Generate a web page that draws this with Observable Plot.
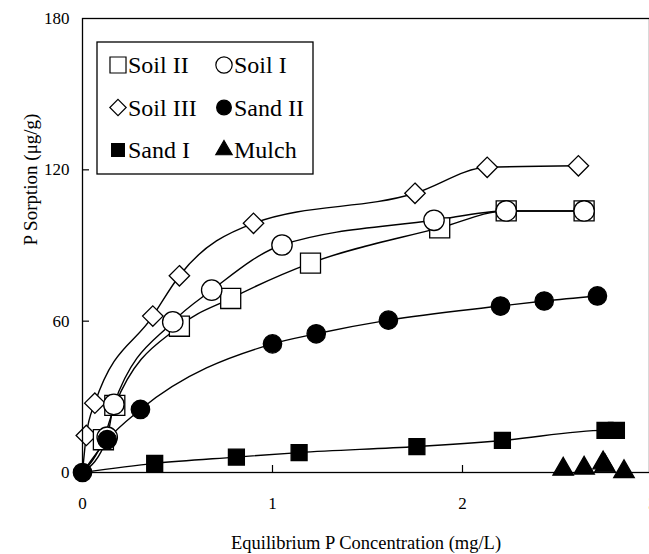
<!DOCTYPE html>
<html><head><meta charset="utf-8">
<script src="https://cdn.jsdelivr.net/npm/d3@7"></script>
<script src="https://cdn.jsdelivr.net/npm/@observablehq/plot@0.6"></script>
<style>
body{margin:0;background:#fff}
#wrap{position:relative;width:649px;height:554px;overflow:hidden;background:#fff}
#legend{position:absolute;left:0;top:0}
#wrap svg, #wrap svg text{font-family:"Liberation Serif","Times New Roman",Times,"DejaVu Serif",serif !important}
</style></head><body><div id="wrap"></div>
<script>
// ---- data ----
const soilII_x  = [0, 0.11, 0.17, 0.51, 0.78, 1.20, 1.88, 2.23, 2.64];
const soilII_y  = [0, 13, 26.6, 58, 69, 83, 97, 103.7, 103.7];
const soilI_x   = [0, 0.13, 0.165, 0.475, 0.68, 1.05, 1.85, 2.23, 2.64];
const soilI_y   = [0, 14, 27, 59.7, 72.3, 90.2, 100, 103.7, 103.7];
const soilIII_x = [0, 0.02, 0.065, 0.37, 0.51, 0.90, 1.75, 2.13, 2.61];
const soilIII_y = [0, 14.7, 27.5, 62, 78, 98.8, 110.7, 121, 121.6];
const sandII_x  = [0, 0.13, 0.305, 1.00, 1.23, 1.61, 2.20, 2.43, 2.71];
const sandII_y  = [0, 13, 25, 51, 55, 60.4, 66, 68, 70];
const sandI_x   = [0, 0.38, 0.81, 1.14, 1.76, 2.21, 2.75, 2.81];
const sandI_y   = [0, 3.6, 6.1, 7.9, 10.3, 12.7, 16.7, 16.7];
const mulch_x   = [2.53, 2.64, 2.74, 2.75, 2.85];
const mulch_y   = [1.3, 1.7, 3.8, 2.6, 0.3];
const xTicks = [0, 1, 2, 3];
const yTicks = [0, 60, 120, 180];
const xTitle = "Equilibrium P Concentration (mg/L)";
const yTitle = "P Sorption (\u03bcg/g)";
const legendNames = ["Soil II", "Soil I", "Soil III", "Sand II", "Sand I", "Mulch"];

// ---- series tables ----
const series = [
  {name: "Soil III", x: soilIII_x, y: soilIII_y, symbol: "diamond2", filled: false, r: 9.2, line: true},
  {name: "Soil II",  x: soilII_x,  y: soilII_y,  symbol: "square",   filled: false, r: 11.3, line: true},
  {name: "Soil I",   x: soilI_x,   y: soilI_y,   symbol: "circle",   filled: false, r: 10.2, line: true},
  {name: "Sand I",   x: sandI_x,   y: sandI_y,   symbol: "square",   filled: true,  r: 9.0, line: true},
  {name: "Sand II",  x: sandII_x,  y: sandII_y,  symbol: "circle",   filled: true,  r: 9.2, line: true},
  {name: "Mulch",    x: mulch_x,   y: mulch_y,   symbol: "triangle", filled: true,  r: 7.6, line: false}
];
const rowsOf = s => s.x.map((x, i) => ({name: s.name, x, y: s.y[i]}));

const marks = [];
for (const s of series) if (s.line) {
  marks.push(Plot.line(rowsOf(s), {x: "x", y: "y", curve: "monotone-x", stroke: "black", strokeWidth: 1.4}));
}
for (const s of series) {
  const pts = rowsOf(s).filter(d => d.x > 0 || s.name === "Sand II");
  marks.push(Plot.dot(pts, {x: "x", y: "y", symbol: s.symbol, r: s.r,
    fill: s.filled ? "black" : "white", stroke: "black", strokeWidth: 1.3}));
}

const serif = "'Liberation Serif', 'Times New Roman', Times, 'DejaVu Serif', serif";
const chart = Plot.plot({
  width: 649, height: 554,
  marginLeft: 82, marginTop: 18, marginBottom: 82, marginRight: 0,
  style: {fontFamily: serif, fontSize: "17px", color: "#000", background: "#fff"},
  x: {domain: [0, 3], range: [82, 652]},
  y: {domain: [0, 180]},
  marks: [
    Plot.axisX(xTicks, {tickSize: 0, tickPadding: 24, label: null, tickFormat: d => String(d)}),
    Plot.axisY(yTicks, {tickSize: 0, tickPadding: 13, label: null, tickFormat: d => String(d)}),
    Plot.ruleY(yTicks.slice(1, 3), {y: d => d, x1: 0, x2: 0, insetRight: -7, stroke: "black", strokeWidth: 1.2}),
    Plot.ruleX(xTicks.slice(1, 3), {x: d => d, y1: 0, y2: 0, insetTop: -7, stroke: "black", strokeWidth: 1.2}),
    Plot.text([xTitle], {frameAnchor: "bottom", dy: 76, fontSize: 18.5, text: d => d}),
    Plot.text([yTitle], {frameAnchor: "left", dx: -52, rotate: -90, fontSize: 19, text: d => d}),
    ...marks,
    Plot.frame({stroke: "black", strokeWidth: 1.3})
  ]
});
const wrap = document.getElementById("wrap");
wrap.appendChild(chart);

// ---- legend box (inside the plot area, top-left) ----
const lg = d3.create("svg").attr("id", "legend").attr("width", 649).attr("height", 554)
  .style("font-family", serif);
lg.append("rect").attr("x", 97).attr("y", 42).attr("width", 216).attr("height", 132)
  .attr("fill", "white").attr("stroke", "black").attr("stroke-width", 1.3);
const symMap = {circle: d3.symbolCircle, square: d3.symbolSquare, diamond2: d3.symbolDiamond2, triangle: d3.symbolTriangle};
legendNames.forEach((name, i) => {
  const s = series.find(d => d.name === name);
  const col = i % 2, row = Math.floor(i / 2);
  const cx = col === 0 ? 118 : 224, cy = 65 + row * 42.5;
  const size = Math.PI * Math.pow(s.r * 0.8, 2);
  lg.append("path").attr("d", d3.symbol(symMap[s.symbol], size)())
    .attr("transform", `translate(${cx},${cy})`)
    .attr("fill", s.filled ? "black" : "white").attr("stroke", "black").attr("stroke-width", 1.2);
  lg.append("text").attr("x", cx + 10).attr("y", cy).attr("dy", "0.35em")
    .attr("font-size", 24).text(name);
});
wrap.appendChild(lg.node());
</script></body></html>
